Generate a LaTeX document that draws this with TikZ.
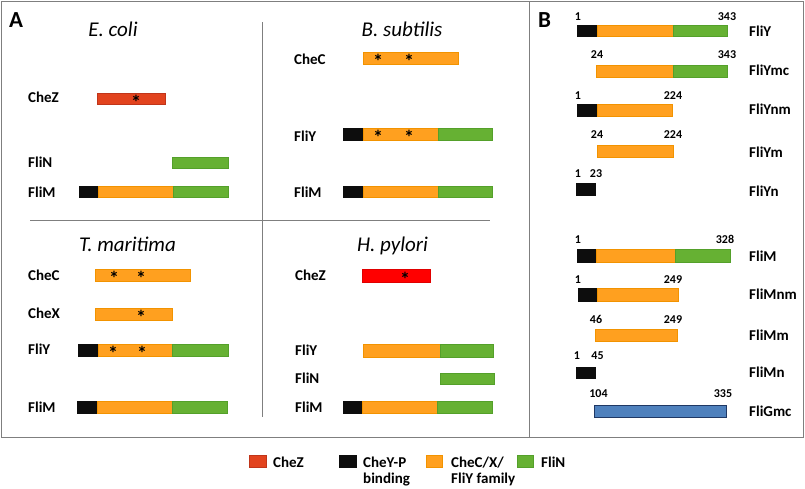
\documentclass[tikz,border=0pt]{standalone}
\usepackage{fontspec}
\setmainfont{Carlito}
\usepackage{tikz}
\definecolor{framec}{HTML}{7F7F7F}
\definecolor{chezc}{HTML}{E2431E}
\definecolor{chezd}{HTML}{C0351A}
\definecolor{redc}{HTML}{FF0000}
\definecolor{redd}{HTML}{E00000}
\definecolor{orgc}{HTML}{FFA01F}
\definecolor{orgd}{HTML}{F29300}
\definecolor{grnc}{HTML}{66B133}
\definecolor{grnd}{HTML}{54A02A}
\definecolor{blkc}{HTML}{0D0D0D}
\definecolor{bluc}{HTML}{4F81BD}
\definecolor{blud}{HTML}{1F3864}
\tikzset{
  frm/.style={draw=framec,line width=1pt},
  seg/.style={line width=0.7pt},
  blk/.style={seg,draw=blkc,fill=blkc},
  org/.style={seg,draw=orgd,fill=orgc},
  grn/.style={seg,draw=grnd,fill=grnc},
  zseg/.style={seg,draw=chezd,fill=chezc},
  rseg/.style={seg,draw=redd,fill=redc},
  bseg/.style={line width=1pt,draw=blud,fill=bluc},
  lbl/.style={anchor=base west,yshift=-4.7pt,inner sep=0pt,font=\fontsize{15}{17}\selectfont\bfseries},
  num/.style={anchor=base,inner sep=0pt,font=\fontsize{12}{14}\selectfont\bfseries},
  ttl/.style={anchor=base,inner sep=0pt,font=\fontsize{21}{25}\selectfont\itshape},
  pnl/.style={anchor=base west,inner sep=0pt,font=\fontsize{23}{27}\selectfont\bfseries},
  star/.style={anchor=base,yshift=-10.6pt,inner sep=0pt,font=\fontsize{20}{22}\selectfont\bfseries},
  leg/.style={anchor=base west,inner sep=0pt,align=left,font=\fontsize{15}{16}\selectfont\bfseries}
}
\begin{document}
\begin{tikzpicture}[x=1pt,y=-1pt]
\useasboundingbox (0,0) rectangle (805,488);
% frames
\draw[frm] (1,1) rectangle (803,437);
\draw[frm] (529,1) -- (529,437);
\draw[frm] (262,22) -- (262,417);
\draw[frm] (30,220) -- (490,220);
\node[pnl] (pA) at (9,27) {A};
\node[pnl] (pB) at (538,27) {B};

% E. coli
\node[ttl] (tEc) at (113,36) {E. coli};
\node[lbl] (ecZ) at (28,98) {CheZ};
\draw[zseg] (97,93) rectangle (165,104);
\node[star] (ecS) at (136,98.5) {*};
\node[lbl] (ecN) at (28,163) {FliN};
\draw[grn] (172,157) rectangle (228,168);
\node[lbl] (ecM) at (28,192.5) {FliM};
\draw[blk] (79,186) rectangle (98,197);
\draw[org] (98,186) rectangle (173,197);
\draw[grn] (173,186) rectangle (228,197);

% B. subtilis
\node[ttl] (tBs) at (402,36) {B. subtilis};
\node[lbl] (bsC) at (294,60) {CheC};
\draw[org] (363,52) rectangle (458,64);
\node[star] (bsS1) at (378,58) {*};
\node[star] (bsS2) at (409,58) {*};
\node[lbl] (bsY) at (294,137) {FliY};
\draw[blk] (343,128) rectangle (363,140);
\draw[org] (363,128) rectangle (438,140);
\draw[grn] (438,128) rectangle (492,140);
\node[star] (bsS3) at (378,134) {*};
\node[star] (bsS4) at (409,134) {*};
\node[lbl] (bsM) at (294,192.5) {FliM};
\draw[blk] (343,186) rectangle (363,197);
\draw[org] (363,186) rectangle (438,197);
\draw[grn] (438,186) rectangle (492,197);

% T. maritima
\node[ttl] (tTm) at (127.5,251) {T. maritima};
\node[lbl] (tmC) at (28,276) {CheC};
\draw[org] (95,269) rectangle (190,281);
\node[star] (tmS1) at (114,275) {*};
\node[star] (tmS2) at (141,275) {*};
\node[lbl] (tmX) at (28,314) {CheX};
\draw[org] (95,308) rectangle (172,320);
\node[star] (tmS3) at (141,314) {*};
\node[lbl] (tmY) at (28,350) {FliY};
\draw[blk] (78,344) rectangle (98,356);
\draw[org] (98,344) rectangle (172,356);
\draw[grn] (172,344) rectangle (228,356);
\node[star] (tmS4) at (113,350) {*};
\node[star] (tmS5) at (142,350) {*};
\node[lbl] (tmM) at (28,408) {FliM};
\draw[blk] (77,401) rectangle (97,413);
\draw[org] (97,401) rectangle (172,413);
\draw[grn] (172,401) rectangle (227,413);

% H. pylori
\node[ttl] (tHp) at (392.5,251) {H. pylori};
\node[lbl] (hpZ) at (295,276) {CheZ};
\draw[rseg] (362,269) rectangle (430,282);
\node[star] (hpS) at (405,275.5) {*};
\node[lbl] (hpY) at (295,351) {FliY};
\draw[org] (363,344) rectangle (440,357);
\draw[grn] (440,344) rectangle (493,357);
\node[lbl] (hpN) at (295,379) {FliN};
\draw[grn] (440,373) rectangle (494,384);
\node[lbl] (hpM) at (295,408) {FliM};
\draw[blk] (343,401) rectangle (362,413);
\draw[org] (362,401) rectangle (437,413);
\draw[grn] (437,401) rectangle (492,413);

% panel B, FliY constructs
\node[num] (yA1) at (578,20) {1};
\node[num] (yA2) at (727,20) {343};
\draw[blk] (577,25) rectangle (597,36);
\draw[org] (597,25) rectangle (673,36);
\draw[grn] (673,25) rectangle (727,36);
\node[lbl] (yA) at (749,32) {FliY};
\node[num] (yB1) at (597,58) {24};
\node[num] (yB2) at (727,58) {343};
\draw[org] (596,65) rectangle (673,77);
\draw[grn] (673,65) rectangle (727,77);
\node[lbl] (yB) at (749,71) {FliYmc};
\node[num] (yC1) at (578,99) {1};
\node[num] (yC2) at (673,99) {224};
\draw[blk] (577,104) rectangle (597,116);
\draw[org] (597,104) rectangle (672,116);
\node[lbl] (yC) at (749,110) {FliYnm};
\node[num] (yD1) at (597,138) {24};
\node[num] (yD2) at (673,138) {224};
\draw[org] (597,145) rectangle (673,157);
\node[lbl] (yD) at (749,153) {FliYm};
\node[num] (yE1) at (578,177) {1};
\node[num] (yE2) at (596,177) {23};
\draw[blk] (576,183) rectangle (595,195);
\node[lbl] (yE) at (749,192) {FliYn};

% panel B, FliM constructs
\node[num] (mA1) at (578,243) {1};
\node[num] (mA2) at (725,243) {328};
\draw[blk] (577,249) rectangle (596,262);
\draw[org] (596,249) rectangle (675,262);
\draw[grn] (675,249) rectangle (730,262);
\node[lbl] (mA) at (749,257) {FliM};
\node[num] (mB1) at (578,283) {1};
\node[num] (mB2) at (673,283) {249};
\draw[blk] (578,288) rectangle (597,301);
\draw[org] (597,288) rectangle (678,301);
\node[lbl] (mB) at (749,295) {FliMnm};
\node[num] (mC1) at (596,323) {46};
\node[num] (mC2) at (673,323) {249};
\draw[org] (595,329) rectangle (677,341);
\node[lbl] (mC) at (749,336) {FliMm};
\node[num] (mD1) at (577,359) {1};
\node[num] (mD2) at (597.5,359) {45};
\draw[blk] (576,367) rectangle (595,378);
\node[lbl] (mD) at (749,373) {FliMn};
\node[num] (gA1) at (598.5,397) {104};
\node[num] (gA2) at (723,397) {335};
\draw[bseg] (594,405) rectangle (726,417);
\node[lbl] (gA) at (749,412) {FliGmc};

% legend (two-line labels sit on their last baseline)
\draw[zseg] (249,455) rectangle (266,467);
\node[leg] (lgZ) at (273,467) {CheZ};
\draw[blk] (339,455) rectangle (356,467);
\node[leg] (lgB) at (363,483) {CheY-P\\binding};
\draw[org] (426,455) rectangle (442,467);
\node[leg] (lgF) at (451,483) {CheC/X/\\FliY family};
\draw[grn] (517,455) rectangle (533,467);
\node[leg] (lgN) at (541,467) {FliN};
\end{tikzpicture}
\end{document}
